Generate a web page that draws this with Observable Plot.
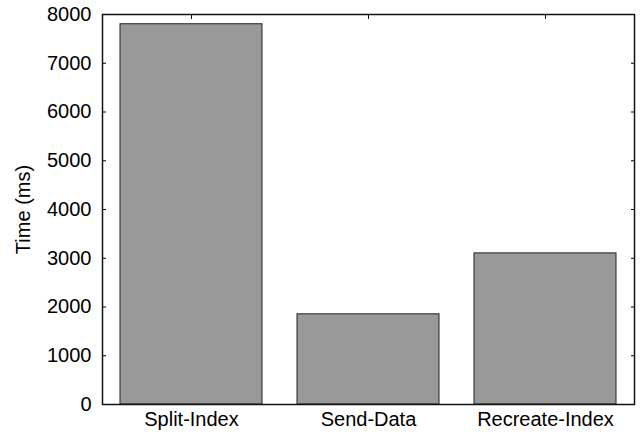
<!DOCTYPE html>
<html>
<head>
<meta charset="utf-8">
<script src="https://cdn.jsdelivr.net/npm/d3@7"></script>
<script src="https://cdn.jsdelivr.net/npm/@observablehq/plot@0.6"></script>
<style>
  html, body { margin: 0; padding: 0; background: #fff; }
</style>
</head>
<body>
<div id="chart"></div>
<script>
const categories = ["Split-Index", "Send-Data", "Recreate-Index"];
const times = [7800, 1850, 3100];
const yTicks = [0, 1000, 2000, 3000, 4000, 5000, 6000, 7000, 8000];

const data = categories.map((c, i) => ({category: c, time: times[i]}));

const chart = Plot.plot({
  width: 640,
  height: 434,
  marginLeft: 102,
  marginRight: 6,
  marginTop: 14,
  marginBottom: 30,
  style: {fontFamily: "'Liberation Sans', Arial, sans-serif", fontSize: "20px", color: "#000", background: "#fff"},
  x: {domain: categories, paddingInner: 0.2, paddingOuter: 0.1},
  y: {domain: [0, 8000]},
  marks: [
    Plot.axisY({anchor: "left", ticks: yTicks, tickSize: -4, tickPadding: 15, tickFormat: d => String(d),
      label: "Time (ms)", labelAnchor: "center", labelArrow: "none", labelOffset: 87, fontSize: 20}),
    Plot.axisY({anchor: "right", ticks: yTicks, tickSize: -4, tickFormat: () => "", label: null}),
    Plot.axisX({anchor: "top", tickSize: -4, tickFormat: () => "", label: null}),
    Plot.axisX({anchor: "bottom", tickSize: 0, tickPadding: 7, label: null, fontSize: 20}),
    Plot.barY(data, {x: "category", y: "time", fill: "#999999", stroke: "#222", strokeWidth: 1}),
    Plot.frame({stroke: "#111", strokeWidth: 1.5})
  ]
});
document.getElementById("chart").appendChild(chart);
</script>
</body>
</html>
